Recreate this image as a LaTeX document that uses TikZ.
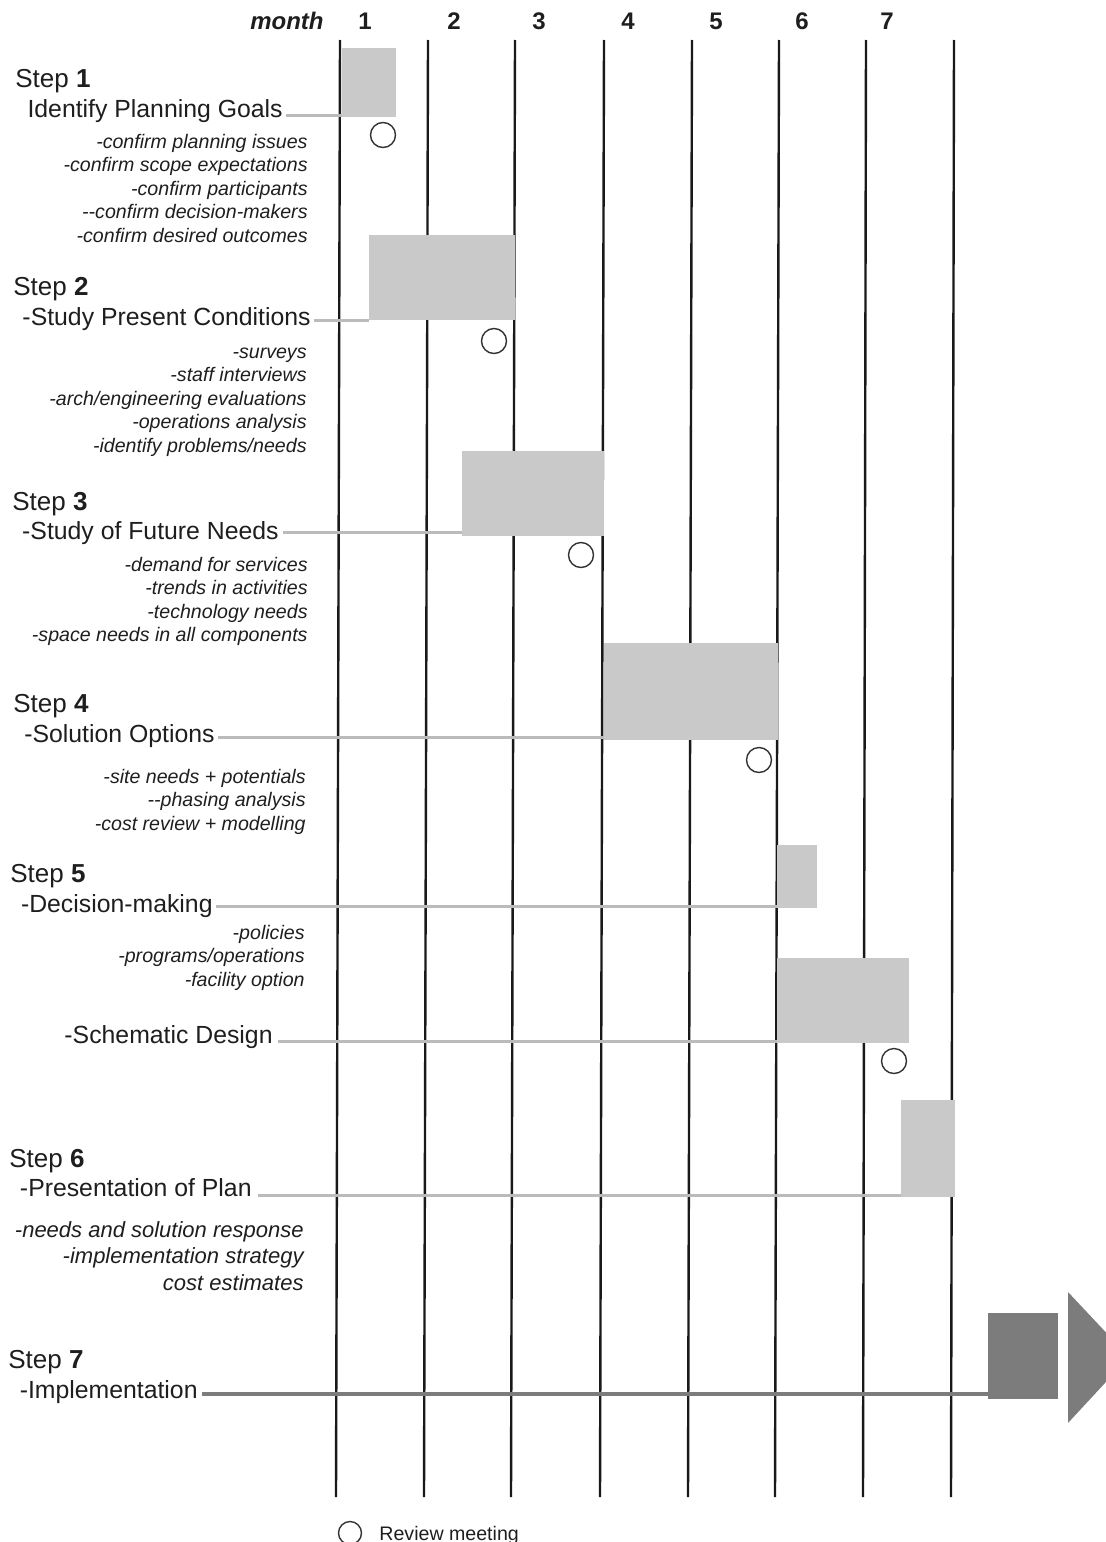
\documentclass[tikz,border=0pt]{standalone}
\usepackage{fontspec}
\setmainfont{Liberation Sans}
\usetikzlibrary{fit}
\definecolor{boxgray}{HTML}{C9C9C9}
\definecolor{darkbox}{HTML}{7C7C7C}
\definecolor{conngray}{HTML}{BBBBBB}
\definecolor{txt}{HTML}{1E1E1E}
\begin{document}
\begin{tikzpicture}[x=0.5pt,y=-0.5pt,
  vline/.style={draw=black!90, line width=1.2pt},
  gbox/.style={fill=boxgray, draw=none, inner sep=0pt, outer sep=0pt},
  dbox/.style={fill=darkbox, draw=none, inner sep=0pt, outer sep=0pt},
  conn/.style={draw=conngray, line width=1.5pt},
  dconn/.style={draw=darkbox, line width=1.8pt},
  meet/.style={circle, draw=black!80, line width=0.7pt, minimum size=12.5pt, inner sep=0pt},
  steplbl/.style={font=\fontsize{13}{15}\selectfont, text=txt, inner sep=0pt, anchor=base west},
  sublbl/.style={font=\fontsize{12.4}{14}\selectfont, text=txt, inner sep=0pt, anchor=base east},
  det/.style={font=\fontsize{9.8}{11}\selectfont\itshape, text=txt, inner sep=0pt, anchor=base east},
  detbig/.style={font=\fontsize{11}{13}\selectfont\itshape, text=txt, inner sep=0pt, anchor=base east},
  mon/.style={font=\fontsize{12}{14}\selectfont\bfseries, text=txt, inner sep=0pt, anchor=base},
]
\useasboundingbox (0,0) rectangle (1106,1542);
\begin{scope}
\clip (0,0) rectangle (1106,1542);

% month header
\node[mon, anchor=base east] (month) at (324,29) {\itshape month};
\foreach \xx [count=\i] in {365,454,539,628,716,802,887}
  \node[mon] (n\i) at (\xx,29) {\i};

% vertical month lines
\foreach \a/\b [count=\i] in {340/336,428/424,515/511,604/600,692/688,779/775,866/863,954/951}{
  \coordinate (t\i) at (\a,40);
  \coordinate (u\i) at (\b,1497);
  \draw[vline] (t\i) -- (u\i);
}

% ---- Step 1
\node[steplbl] (s1) at (15,87) {Step \textbf{1}};
\node[sublbl] (g1) at (283,117) {Identify Planning Goals};
\foreach \t [count=\i] in {-confirm planning issues,-confirm scope expectations,-confirm participants,-{}-confirm decision-makers,-confirm desired outcomes}
  \node[det] (d1-\i) at (308,{148+23.6*(\i-1)}) {\t};
\node[gbox, fit={(342,48) (396,117)}] (b1) {};
\coordinate (c1) at (286,115);
\draw[conn] (c1) -- (c1 -| b1.west);
\node[meet] (m1) at (383,135) {};

% ---- Step 2
\node[steplbl] (s2) at (13,295) {Step \textbf{2}};
\node[sublbl] (g2) at (311,325) {-Study Present Conditions};
\foreach \t [count=\i] in {-surveys,-staff interviews,-arch/engineering evaluations,-operations analysis,-identify problems/needs}
  \node[det] (d2-\i) at (307,{358+23.5*(\i-1)}) {\t};
\node[gbox, fit={(369,235) (515,320)}] (b2) {};
\coordinate (c2) at (314,320);
\draw[conn] (c2) -- (c2 -| b2.west);
\node[meet] (m2) at (494,341) {};

% ---- Step 3
\node[steplbl] (s3) at (12,510) {Step \textbf{3}};
\node[sublbl] (g3) at (279,539) {-Study of Future Needs};
\foreach \t [count=\i] in {-demand for services,-trends in activities,-technology needs,-space needs in all components}
  \node[det] (d3-\i) at (308,{571+23.6*(\i-1)}) {\t};
\node[gbox, fit={(462,451) (604,536)}] (b3) {};
\coordinate (c3) at (283,532);
\draw[conn] (c3) -- (c3 -| b3.west);
\node[meet] (m3) at (581,555) {};

% ---- Step 4
\node[steplbl] (s4) at (13,712) {Step \textbf{4}};
\node[sublbl] (g4) at (215,742) {-Solution Options};
\foreach \t [count=\i] in {-site needs + potentials,-{}-phasing analysis,-cost review + modelling}
  \node[det] (d4-\i) at (306,{783+23.5*(\i-1)}) {\t};
\node[gbox, fit={(604,643) (778,740)}] (b4) {};
\coordinate (c4) at (218,737);
\draw[conn] (c4) -- (c4 -| b4.west);
\node[meet] (m4) at (759,760) {};

% ---- Step 5
\node[steplbl] (s5) at (10,882) {Step \textbf{5}};
\node[sublbl] (g5) at (213,912) {-Decision-making};
\foreach \t [count=\i] in {-policies,-programs/operations,-facility option}
  \node[det] (d5-\i) at (305,{939+23.5*(\i-1)}) {\t};
\node[gbox, fit={(777,845) (817,908)}] (b5) {};
\coordinate (c5) at (216,906);
\draw[conn] (c5) -- (c5 -| b5.west);

\node[sublbl] (g5b) at (273,1043) {-Schematic Design};
\node[gbox, fit={(777,958) (909,1043)}] (b5b) {};
\coordinate (c5b) at (278,1041);
\draw[conn] (c5b) -- (c5b -| b5b.west);
\node[meet] (m5) at (894,1061) {};

% ---- Step 6
\node[steplbl] (s6) at (9,1167) {Step \textbf{6}};
\node[sublbl] (g6) at (252,1196) {-Presentation of Plan};
\foreach \t [count=\i] in {-needs and solution response,-implementation strategy,cost estimates}
  \node[detbig] (d6-\i) at (304,{1237+26.5*(\i-1)}) {\t};
\node[gbox, fit={(901,1100) (955,1197)}] (b6) {};
\coordinate (c6) at (258,1195);
\draw[conn] (c6) -- (c6 -| b6.west);

% ---- Step 7
\node[steplbl] (s7) at (8,1368) {Step \textbf{7}};
\node[sublbl] (g7) at (198,1398) {-Implementation};
\node[dbox, fit={(988,1313) (1058,1399)}] (b7) {};
\coordinate (c7) at (202,1394);
\draw[dconn] (c7) -- (c7 -| b7.west);
\fill[darkbox] (1068,1292) -- (1129,1357) -- (1068,1423) -- cycle;

% legend
\node[meet, minimum size=11.5pt] (lg) at (350,1533) {};
\node[font=\fontsize{9.8}{11}\selectfont, text=txt, inner sep=0pt, anchor=base west] (lgt) at (379,1540) {Review meeting};
\end{scope}
\end{tikzpicture}
\end{document}
